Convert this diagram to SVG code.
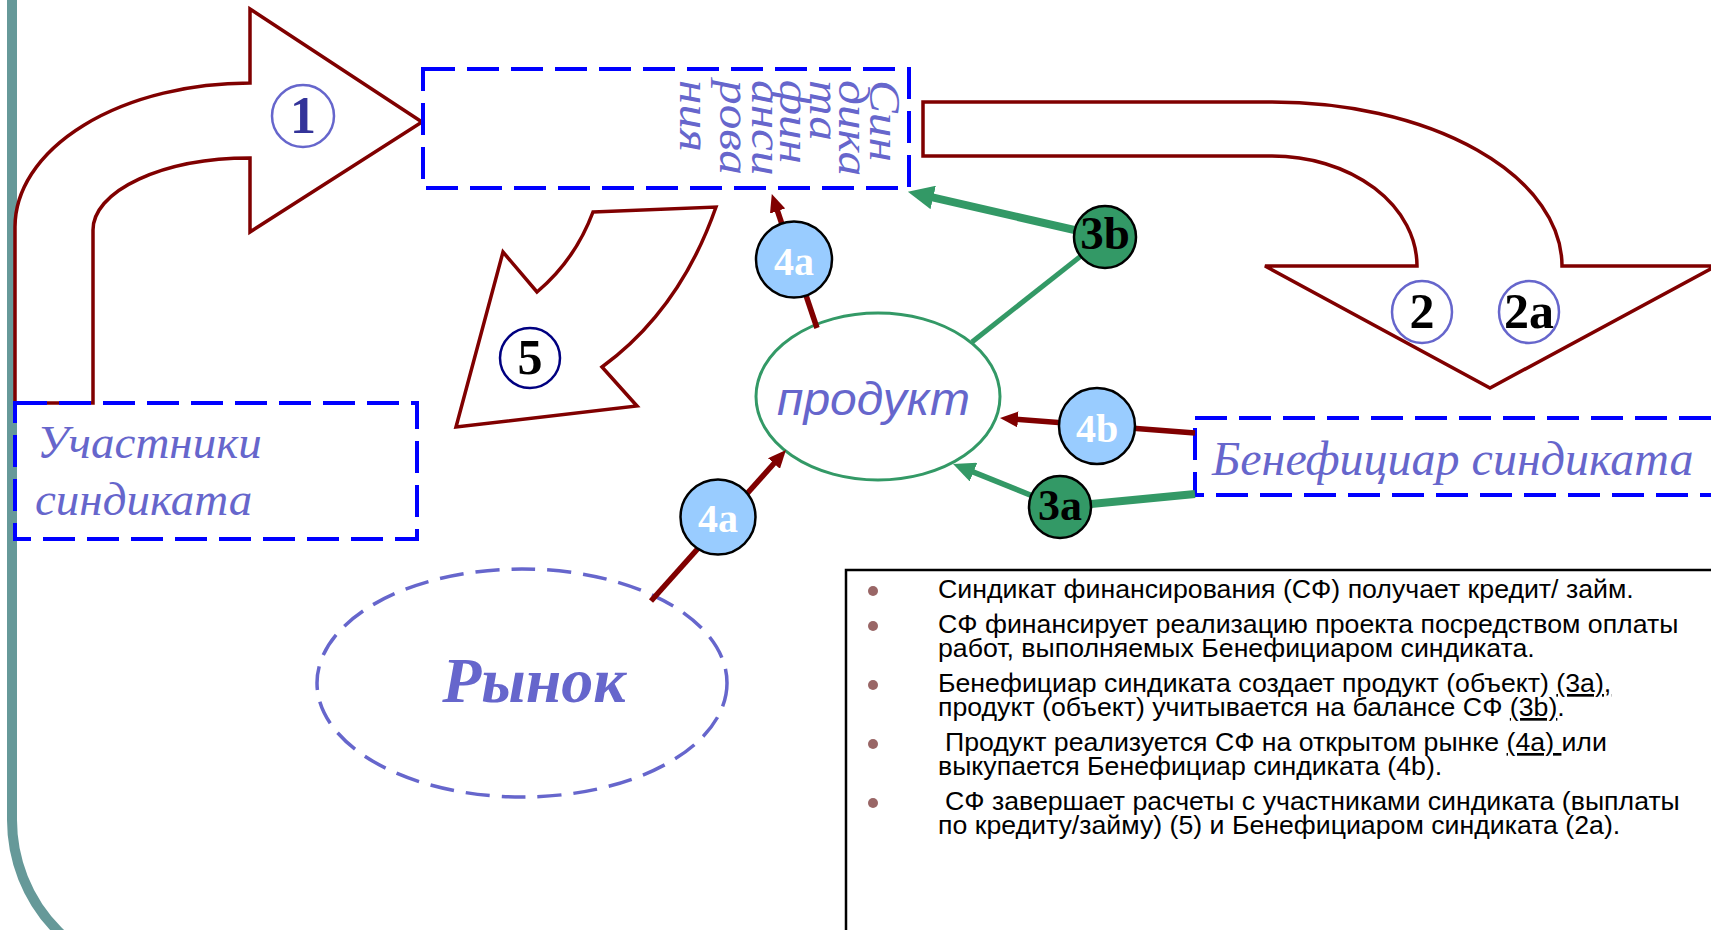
<svg xmlns="http://www.w3.org/2000/svg" width="1711" height="930" viewBox="0 0 1711 930">
<style>
.big{fill:#fff;stroke:#800000;stroke-width:3.5;stroke-linejoin:miter}
.dbox{fill:none;stroke:#0000FF;stroke-width:4;stroke-dasharray:32 12}
.lbl{font-family:"Liberation Serif",serif;font-style:italic;fill:#6666CC}
.num{font-family:"Liberation Serif",serif;font-weight:bold;text-anchor:middle}
.red{stroke:#800000;stroke-width:5.5;fill:none}
.grn{stroke:#339966;fill:none}
.blue{fill:#99CCFF;stroke:#000;stroke-width:2.5}
.gc{fill:#339966;stroke:#000;stroke-width:2.5}
.txt{font-family:"Liberation Sans",Arial,sans-serif;font-size:26.7px;fill:#000}
.bul{fill:#996666}
</style>
<defs>
<marker id="mRed" markerUnits="userSpaceOnUse" viewBox="0 0 18 16" markerWidth="18" markerHeight="16" refX="8" refY="8" orient="auto"><path d="M0,0 L18,8 L0,16 z" fill="#800000"/></marker>
<marker id="mGreen" markerUnits="userSpaceOnUse" viewBox="0 0 22 20" markerWidth="22" markerHeight="20" refX="10" refY="10" orient="auto"><path d="M0,0 L22,10 L0,20 z" fill="#339966"/></marker>
<marker id="mGreenBig" markerUnits="userSpaceOnUse" viewBox="0 0 26 24" markerWidth="26" markerHeight="24" refX="12" refY="12" orient="auto"><path d="M0,0 L26,12 L0,24 z" fill="#339966"/></marker>
</defs>
<rect width="1711" height="930" fill="#fff"/>
<path id="frame" d="M12,-10 L12,820 A157,157 0 0 0 169,977" fill="none" stroke="#669999" stroke-width="10"/>

<g id="arrow1">
<path class="big" d="M15,403 L15,227 A235,144 0 0 1 250,83 L250,9 L422,122 L250,232 L250,158 A157,72 0 0 0 93,230 L93,403 Z"/>
<circle cx="303" cy="116" r="31" fill="#fff" stroke="#6666CC" stroke-width="2.5"/>
<text class="num" x="303" y="133" font-size="52" fill="#333399">1</text>
</g>

<g id="arrow2">
<path class="big" d="M923,102 L1272,102 A290,164 0 0 1 1562,266 L1716,266 L1490,388 L1265,266 L1417,266 A145,110 0 0 0 1272,156 L923,156 Z"/>
<ellipse cx="1422" cy="312" rx="30" ry="31" fill="#fff" stroke="#6666CC" stroke-width="2.5"/>
<text class="num" x="1422" y="328" font-size="50" fill="#000">2</text>
<ellipse cx="1529" cy="312" rx="30" ry="31" fill="#fff" stroke="#6666CC" stroke-width="2.5"/>
<text class="num" x="1529" y="328" font-size="50" fill="#000">2a</text>
</g>

<g id="arrow5">
<path class="big" d="M593,212 L716,207 Q680,310 602,367 L637,406 L456,427 L503,252 L537,292 Q575,260 593,212 Z"/>
<circle cx="530" cy="358" r="30" fill="#fff" stroke="#000080" stroke-width="2.5"/>
<text class="num" x="530" y="374" font-size="50" fill="#000">5</text>
</g>

<g id="syndicate">
<rect class="dbox" x="423" y="69" width="486" height="119"/>
<g class="lbl" font-size="44">
<text transform="translate(870,80) rotate(90) scale(1.12,1)">Син</text>
<text transform="translate(839,80) rotate(90) scale(1.12,1)">дика</text>
<text transform="translate(810,80) rotate(90) scale(1.12,1)">та</text>
<text transform="translate(780,80) rotate(90) scale(1.12,1)">фин</text>
<text transform="translate(752,80) rotate(90) scale(1.12,1)">анси</text>
<text transform="translate(720,80) rotate(90) scale(1.12,1)">рова</text>
<text transform="translate(680,80) rotate(90) scale(1.12,1)">ния</text>
</g>
</g>

<g id="participants">
<rect class="dbox" x="15" y="403" width="402" height="136"/>
<text class="lbl" x="37" y="458" font-size="47">Участники</text>
<text class="lbl" x="35" y="515" font-size="47">синдиката</text>
</g>

<g id="beneficiary">
<rect class="dbox" x="1195" y="418" width="560" height="77"/>
<text class="lbl" x="1212" y="475" font-size="48">Бенефициар синдиката</text>
</g>

<g id="market">
<ellipse cx="522" cy="683" rx="205" ry="114" fill="none" stroke="#6666CC" stroke-width="3.5" stroke-dasharray="24 12"/>
<text x="534" y="702" font-family="Liberation Serif, serif" font-weight="bold" font-style="italic" font-size="64" fill="#6666CC" text-anchor="middle">Рынок</text>
</g>

<g id="product">
<ellipse cx="878" cy="396.5" rx="122" ry="83.5" fill="#fff" stroke="#339966" stroke-width="3"/>
<text x="777" y="415" font-family="Liberation Sans, Arial, sans-serif" font-style="italic" font-size="47" fill="#6666CC" textLength="193" lengthAdjust="spacingAndGlyphs">продукт</text>
</g>

<g id="connectors">
<line class="red" x1="817" y1="328" x2="775" y2="203.5" marker-end="url(#mRed)"/>
<line class="red" x1="651" y1="601" x2="779.3" y2="457.5" marker-end="url(#mRed)"/>
<line class="red" x1="1195" y1="433" x2="1010" y2="418.8" marker-end="url(#mRed)"/>
<line class="grn" stroke-width="8" x1="1195" y1="494" x2="1060" y2="507"/>
<line class="grn" stroke-width="5.5" x1="1060" y1="507" x2="964.2" y2="468.4" marker-end="url(#mGreen)"/>
<line class="grn" stroke-width="8" x1="1105" y1="237" x2="921.5" y2="194.8" marker-end="url(#mGreenBig)"/>
<line class="grn" stroke-width="5" x1="1105" y1="237" x2="972" y2="342"/>
</g>

<g id="n4a_top">
<circle class="blue" cx="794" cy="259.5" r="38"/>
<text class="num" x="794" y="275" font-size="40" fill="#fff">4a</text>
</g>
<g id="n4a_low">
<circle class="blue" cx="718" cy="517" r="37.5"/>
<text class="num" x="718" y="532" font-size="40" fill="#fff">4a</text>
</g>
<g id="n4b">
<circle class="blue" cx="1097" cy="426" r="38"/>
<text class="num" x="1097" y="442" font-size="40" fill="#fff">4b</text>
</g>
<g id="n3b">
<circle class="gc" cx="1105" cy="237" r="31"/>
<text class="num" x="1105" y="249" font-size="47" fill="#000">3b</text>
</g>
<g id="n3a">
<circle class="gc" cx="1060" cy="507" r="31"/>
<text class="num" x="1060" y="520" font-size="44" fill="#000">3a</text>
</g>

<g id="notes">
<rect x="846" y="570" width="900" height="400" fill="#fff" stroke="#000" stroke-width="2.5"/>
<circle class="bul" cx="873" cy="591" r="5"/>
<circle class="bul" cx="873" cy="626" r="5"/>
<circle class="bul" cx="873" cy="685" r="5"/>
<circle class="bul" cx="873" cy="744" r="5"/>
<circle class="bul" cx="873" cy="803" r="5"/>
<text class="txt" x="938" y="598">Синдикат финансирования (СФ) получает кредит/ займ.</text>
<text class="txt" x="938" y="633">СФ финансирует реализацию проекта посредством оплаты</text>
<text class="txt" x="938" y="657">работ, выполняемых Бенефициаром синдиката.</text>
<text class="txt" x="938" y="692">Бенефициар синдиката создает продукт (объект) <tspan text-decoration="underline">(3а),</tspan></text>
<text class="txt" x="938" y="716">продукт (объект) учитывается на балансе СФ <tspan text-decoration="underline">(3b)</tspan>.</text>
<text class="txt" x="945" y="751">Продукт реализуется СФ на открытом рынке <tspan text-decoration="underline">(4а) </tspan>или</text>
<text class="txt" x="938" y="775">выкупается Бенефициар синдиката (4b).</text>
<text class="txt" x="945" y="810">СФ завершает расчеты с участниками синдиката (выплаты</text>
<text class="txt" x="938" y="834">по кредиту/займу) (5) и Бенефициаром синдиката (2а).</text>
</g>
</svg>
